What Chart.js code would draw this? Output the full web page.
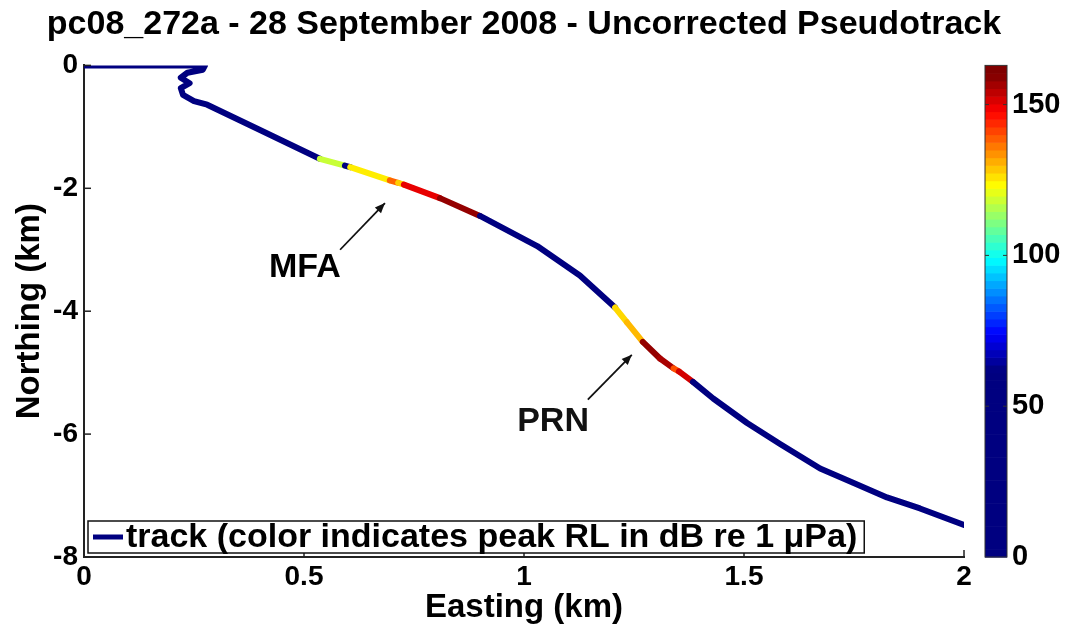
<!DOCTYPE html>
<html><head><meta charset="utf-8">
<script src="https://cdn.jsdelivr.net/npm/chart.js@4.4.1/dist/chart.umd.min.js"></script>
<style>html,body{margin:0;padding:0;background:#fff;overflow:hidden}#wrap{width:1079px;height:633px}</style>
</head><body><div id="wrap"><canvas id="c" width="1079" height="633"></canvas></div>
<script>
const titleText = 'pc08_272a - 28 September 2008 - Uncorrected Pseudotrack';
const xAxisTitle = 'Easting (km)';
const yAxisTitle = 'Northing (km)';
const legendText = 'track (color indicates peak RL in dB re 1 \u03bcPa)';

const eastingKm  = [0, 0.275, 0.27, 0.235, 0.22, 0.24, 0.22, 0.225, 0.25, 0.28, 0.40, 0.536, 0.593, 0.605, 0.695, 0.714, 0.727, 0.809, 0.90, 1.03, 1.127, 1.207, 1.234, 1.27, 1.309, 1.34, 1.352, 1.384, 1.43, 1.507, 1.582, 1.673, 1.748, 1.825, 1.90, 2.0];
const northingKm = [0, 0, -0.07, -0.12, -0.20, -0.29, -0.37, -0.48, -0.58, -0.64, -1.05, -1.52, -1.63, -1.655, -1.87, -1.91, -1.94, -2.16, -2.45, -2.94, -3.42, -3.94, -4.18, -4.50, -4.77, -4.93, -4.98, -5.15, -5.42, -5.82, -6.16, -6.56, -6.79, -7.03, -7.21, -7.48];
const peakRL     = [40, 40, 40, 40, 40, 40, 40, 40, 40, 40, 40, 118, 45, 125, 138, 128, 150, 158, 40, 40, 40, 127, 130, 158, 156, 140, 152, 40, 40, 40, 40, 40, 40, 40, 40, 40];

const xTicks = [0, 0.5, 1, 1.5, 2];
const yTicks = [0, -2, -4, -6, -8];
const cbTicks = [0, 50, 100, 150];
const cbMax = 163;
const cmapLow = 62, cmapHigh = 160;

const annotLabels = ['MFA', 'PRN'];
const annotTextX = [0.502, 1.066];
const annotTextY = [-3.29, -5.79];
const arrowFromX = [0.582, 1.145];
const arrowFromY = [-3.0, -5.44];
const arrowToX   = [0.684, 1.245];
const arrowToY   = [-2.24, -4.71];

const FONT = '"Liberation Sans", Arial, Helvetica, sans-serif';

function clamp01(v){ return Math.max(0, Math.min(1, v)); }
function jet(t){
  t = clamp01(t);
  const r = clamp01(1.5 - Math.abs(4*t - 3));
  const g = clamp01(1.5 - Math.abs(4*t - 2));
  const b = clamp01(1.5 - Math.abs(4*t - 1));
  return 'rgb(' + Math.round(r*255) + ',' + Math.round(g*255) + ',' + Math.round(b*255) + ')';
}
function rlColor(v){ return jet((v - cmapLow) / (cmapHigh - cmapLow)); }

const points = eastingKm.map((x, i) => ({x: x, y: northingKm[i]}));

const decorPlugin = {
  id: 'decor',
  afterDraw(chart) {
    const ctx = chart.ctx, ca = chart.chartArea;
    const xs = chart.scales.x, ys = chart.scales.y, cb = chart.scales.cb;
    ctx.save();
    // title
    ctx.fillStyle = '#000';
    ctx.font = 'bold 34px ' + FONT;
    ctx.textAlign = 'center';
    ctx.textBaseline = 'alphabetic';
    ctx.fillText(titleText, (ca.left + ca.right) / 2, 34);
    // inward ticks
    ctx.strokeStyle = '#222';
    ctx.lineWidth = 1.5;
    xTicks.forEach(v => { const px = xs.getPixelForValue(v); ctx.beginPath(); ctx.moveTo(px, ca.bottom); ctx.lineTo(px, ca.bottom - 7); ctx.stroke(); });
    yTicks.forEach(v => { const py = ys.getPixelForValue(v); ctx.beginPath(); ctx.moveTo(ca.left, py); ctx.lineTo(ca.left + 7, py); ctx.stroke(); });
    // annotations
    ctx.font = 'bold 34px ' + FONT;
    ctx.textAlign = 'center';
    ctx.textBaseline = 'middle';
    ctx.fillStyle = '#000';
    annotLabels.forEach((lab, i) => {
      ctx.fillText(lab, xs.getPixelForValue(annotTextX[i]), ys.getPixelForValue(annotTextY[i]));
      const x0 = xs.getPixelForValue(arrowFromX[i]), y0 = ys.getPixelForValue(arrowFromY[i]);
      const x1 = xs.getPixelForValue(arrowToX[i]), y1 = ys.getPixelForValue(arrowToY[i]);
      ctx.strokeStyle = '#111'; ctx.lineWidth = 1.8;
      ctx.beginPath(); ctx.moveTo(x0, y0); ctx.lineTo(x1, y1); ctx.stroke();
      const a = Math.atan2(y1 - y0, x1 - x0), h = 11, w = 0.4;
      ctx.beginPath();
      ctx.moveTo(x1, y1);
      ctx.lineTo(x1 - h*Math.cos(a - w), y1 - h*Math.sin(a - w));
      ctx.lineTo(x1 - h*Math.cos(a + w), y1 - h*Math.sin(a + w));
      ctx.closePath(); ctx.fillStyle = '#111'; ctx.fill();
    });
    // legend
    ctx.font = 'bold 34px ' + FONT;
    const tw = ctx.measureText(legendText).width;
    const lx = ca.left + 4, ly = ca.bottom - 36, lh = 32;
    const lw = 40 + tw + 5;
    ctx.fillStyle = '#fff';
    ctx.fillRect(lx, ly, lw, lh);
    ctx.strokeStyle = '#111'; ctx.lineWidth = 1.5;
    ctx.strokeRect(lx, ly, lw, lh);
    ctx.strokeStyle = rlColor(40); ctx.lineWidth = 5;
    ctx.beginPath(); ctx.moveTo(lx + 5, ly + lh/2); ctx.lineTo(lx + 35, ly + lh/2); ctx.stroke();
    ctx.fillStyle = '#000'; ctx.textAlign = 'left'; ctx.textBaseline = 'middle';
    ctx.fillText(legendText, lx + 38, ly + lh/2 + 1);
    // colorbar
    const bx = ca.right + 21, bw = 22;
    const top = cb.getPixelForValue(cbMax), bot = cb.getPixelForValue(0);
    const n = 64;
    for (let k = 0; k < n; k++) {
      const v0 = cbMax * k / n, v1 = cbMax * (k + 1) / n;
      const p0 = cb.getPixelForValue(v0), p1 = cb.getPixelForValue(v1);
      ctx.fillStyle = rlColor((v0 + v1) / 2);
      ctx.fillRect(bx, p1, bw, p0 - p1 + 0.6);
    }
    ctx.strokeStyle = '#333'; ctx.lineWidth = 1;
    ctx.strokeRect(bx, top, bw, bot - top);
    cbTicks.forEach(v => { const py = cb.getPixelForValue(v); if (v > 0) { ctx.beginPath(); ctx.moveTo(bx, py); ctx.lineTo(bx + 4, py); ctx.moveTo(bx + bw, py); ctx.lineTo(bx + bw - 4, py); ctx.stroke(); } });
    ctx.restore();
  }
};

new Chart(document.getElementById('c'), {
  type: 'scatter',
  data: {
    datasets: [{
      label: legendText,
      data: points,
      showLine: true,
      borderWidth: 6,
      pointRadius: 0,
      pointHoverRadius: 0,
      borderColor: rlColor(40),
      borderJoinStyle: 'round',
      borderCapStyle: 'round',
      tension: 0,
      segment: { borderColor: c => rlColor(peakRL[c.p0DataIndex]) }
    }]
  },
  options: {
    responsive: false,
    animation: false,
    devicePixelRatio: 1,
    layout: { padding: { top: 61, left: 0, right: 0, bottom: 0 } },
    plugins: { legend: { display: false }, title: { display: false }, tooltip: { enabled: false } },
    scales: {
      x: {
        type: 'linear', min: 0, max: 2,
        afterBuildTicks: s => { s.ticks = xTicks.map(v => ({value: v})); },
        afterFit: s => { s.height = 76; },
        grid: { display: false, drawTicks: false },
        border: { display: true, color: '#222', width: 2 },
        ticks: { padding: 3, color: '#000', font: { family: FONT, size: 28, weight: 'bold' }, callback: v => String(v), maxRotation: 0 },
        title: { display: true, text: xAxisTitle, color: '#000', font: { family: FONT, size: 33, weight: 'bold' }, padding: { top: 0, bottom: 5 } }
      },
      y: {
        type: 'linear', min: -8, max: 0, position: 'left',
        afterBuildTicks: s => { s.ticks = yTicks.map(v => ({value: v})); },
        afterFit: s => { s.width = 84; },
        grid: { display: false, drawTicks: false },
        border: { display: true, color: '#222', width: 2 },
        ticks: { padding: 6, color: '#000', font: { family: FONT, size: 28, weight: 'bold' }, callback: v => String(v) },
        title: { display: true, text: yAxisTitle, color: '#000', font: { family: FONT, size: 33, weight: 'bold' }, padding: { top: 10, bottom: 0 } }
      },
      cb: {
        type: 'linear', min: 0, max: cbMax, position: 'right',
        afterBuildTicks: s => { s.ticks = cbTicks.map(v => ({value: v})); },
        afterFit: s => { s.width = 115; },
        grid: { display: false, drawTicks: false },
        border: { display: false },
        ticks: { padding: 48, color: '#000', font: { family: FONT, size: 29, weight: 'bold' }, callback: v => String(v) }
      }
    }
  },
  plugins: [decorPlugin]
});
</script></body></html>
